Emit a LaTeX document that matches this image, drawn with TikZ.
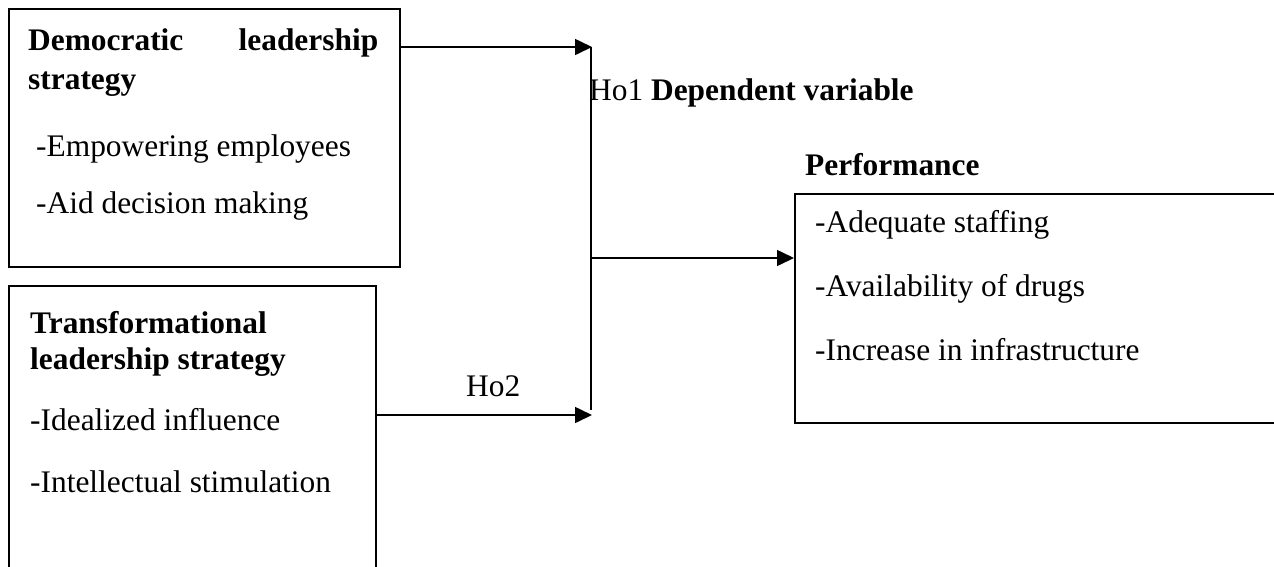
\documentclass[tikz,border=0pt]{standalone}
\usepackage{fontspec}
\setmainfont{Liberation Serif}
\usetikzlibrary{arrows.meta}
\begin{document}
\begin{tikzpicture}[x=1pt,y=-1pt,
  frame/.style={draw,line width=1.6pt,rectangle,inner sep=0pt,anchor=north west},
  txt/.style={anchor=base west,inner sep=0pt,font=\fontsize{31.4}{36}\selectfont},
  btxt/.style={txt,font=\fontsize{31.4}{36}\selectfont\bfseries},
  line/.style={line width=1.6pt},
  arr/.style={line width=1.6pt,-{Triangle[length=17pt,width=16pt]}}]
\path[use as bounding box,clip] (0,0) rectangle (1274,566);
% boxes
\node[frame,minimum width=391pt,minimum height=258pt] (demo) at (8,8) {};
\node[frame,minimum width=367pt,minimum height=400pt] (trans) at (8,285) {};
\node[frame,minimum width=600pt,minimum height=229pt] (perf) at (794,193) {};
% junction coordinates
\coordinate (j1) at (592,47);
\coordinate (j2) at (591,410);
\coordinate (jm) at (591,258);
\coordinate (j3) at (592,415);
\coordinate (vt) at (591,47);
% connectors
\draw[arr] (demo.north east |- j1) -- (j1);
\draw[line] (vt) -- (j2);
\draw[arr] (jm) -- (perf.west |- jm);
\draw[arr] (trans.north east |- j3) -- (j3);
% texts box 1
\node[btxt] (t1) at (28,50) {\makebox[350pt][s]{Democratic leadership}};
\node[btxt] (t2) at (28,89) {strategy};
\node[txt] (t3) at (36,156) {-Empowering employees};
\node[txt] (t4) at (36,213) {-Aid decision making};
% texts box 2
\node[btxt] (t5) at (30,333) {Transformational};
\node[btxt] (t6) at (30,369) {leadership strategy};
\node[txt] (t7) at (30,430) {-Idealized influence};
\node[txt] (t8) at (30,492) {-Intellectual stimulation};
% right side
\node[txt] (ho1) at (589,100) {Ho1 \textbf{Dependent variable}};
\node[btxt] (ptitle) at (805,175) {Performance};
\node[txt] (t9) at (815,232) {-Adequate staffing};
\node[txt] (t10) at (815,296) {-Availability of drugs};
\node[txt] (t11) at (815,360) {-Increase in infrastructure};
\node[txt] (ho2) at (466,396) {Ho2};
\end{tikzpicture}
\end{document}
